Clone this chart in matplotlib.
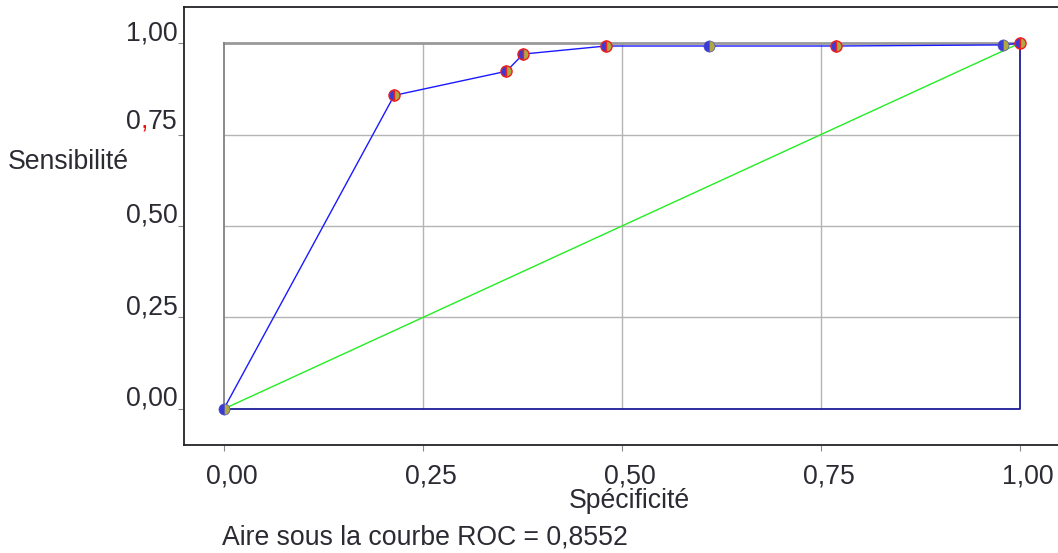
import matplotlib
matplotlib.use("Agg")
from matplotlib import pyplot as plt
from matplotlib import transforms
from matplotlib.offsetbox import TextArea, HPacker, AnnotationBbox

plt.rcParams['font.family'] = ['Liberation Sans', 'DejaVu Sans']

# ROC points
fpr = [0.0, 0.214, 0.355, 0.376, 0.480, 0.609, 0.769, 0.979, 1.0]
tpr = [0.0, 0.857, 0.923, 0.970, 0.992, 0.992, 0.992, 0.995, 1.0]
red_edge = [False, True, True, True, True, False, True, False, True]

ticks = [0.0, 0.25, 0.50, 0.75, 1.0]
tick_labels = ["0,00", "0,25", "0,50", "0,75", "1,00"]
auc_text = "Aire sous la courbe ROC = 0,8552"

txt_col = "#2b2b33"
fs = 19.2

fig = plt.figure(figsize=(10.58, 5.53), dpi=100)
ax = fig.add_axes([184 / 1058, 1 - 445 / 553, 1 - 184 / 1058, (445 - 7) / 553])
ax.set_xlim(-0.05, 1.0477)
ax.set_ylim(-0.0986, 1.0986)

# spines
for s in ["top", "left", "bottom"]:
    ax.spines[s].set_color("#222228")
    ax.spines[s].set_linewidth(1.3)
ax.spines["right"].set_visible(False)

# inner grid
inner = [0.25, 0.5, 0.75]
ax.hlines(inner, 0, 1, color="#b4b4b4", lw=1, zorder=1)
ax.vlines(inner, 0, 1, color="#b4b4b4", lw=1, zorder=1)
# frame of the unit square
ax.plot([0, 1], [1, 1], color="#999999", lw=2, zorder=1)
ax.plot([0, 0], [0, 1], color="#808080", lw=1.3, zorder=1)
ax.plot([0, 1, 1], [0, 0, 1], color="#1c1c9a", lw=1.3, zorder=2)

# chance line
ax.plot([0, 1], [0, 1], color="#22ee22", lw=1, zorder=3)

# ROC curve
ax.plot(fpr, tpr, color="#1a1aff", lw=1, zorder=4)
for x, y, r in zip(fpr, tpr, red_edge):
    ax.plot(x, y, marker="o", markersize=8, fillstyle="left",
            markerfacecolor="#3a3ad8", markerfacecoloralt="#b0a840",
            markeredgecolor="#ee2020" if r else "#5050c0",
            markeredgewidth=1.0 if r else 0.5, zorder=5)

# ticks
ax.set_xticks(ticks)
ax.set_xticklabels(tick_labels)
ax.set_yticks(ticks)
ax.set_yticklabels(["0,00", "0,25", "0,50", "", "1,00"])
ax.tick_params(axis="both", length=4.5, color="#888888", labelsize=fs,
               labelcolor=txt_col)
ax.tick_params(axis="y", pad=0)
ax.tick_params(axis="x", pad=9)
yoff = transforms.ScaledTranslation(0, -3 / 100, fig.dpi_scale_trans)
for lab in ax.get_yticklabels():
    lab.set_va("bottom")
    lab.set_transform(lab.get_transform() + yoff)
off = transforms.ScaledTranslation(8 / 100, 0, fig.dpi_scale_trans)
for lab in ax.get_xticklabels():
    lab.set_transform(lab.get_transform() + off)

# 0,75 with a red comma
parts = [TextArea("0", textprops=dict(color=txt_col, size=fs)),
         TextArea(",", textprops=dict(color="#ee1111", size=fs)),
         TextArea("75", textprops=dict(color=txt_col, size=fs))]
pack = HPacker(children=parts, align="baseline", pad=0, sep=0)
trans = transforms.blended_transform_factory(ax.transAxes, ax.transData)
ab = AnnotationBbox(pack, (0, 0.75), xycoords=trans, xybox=(-4.5, 0),
                    boxcoords="offset points", box_alignment=(1, 0),
                    frameon=False, pad=0, annotation_clip=False)
ax.add_artist(ab)

fig.text(8 / 1058, 1 - 162 / 553, "Sensibilité", fontsize=fs, color=txt_col,
         ha="left", va="center")
fig.text(629 / 1058, 1 - 501 / 553, "Spécificité", fontsize=fs, color=txt_col,
         ha="center", va="center")
fig.text(222 / 1058, 1 - 537 / 553, auc_text, fontsize=fs, color=txt_col,
         ha="left", va="center")

fig.savefig("out.png", dpi=100)
